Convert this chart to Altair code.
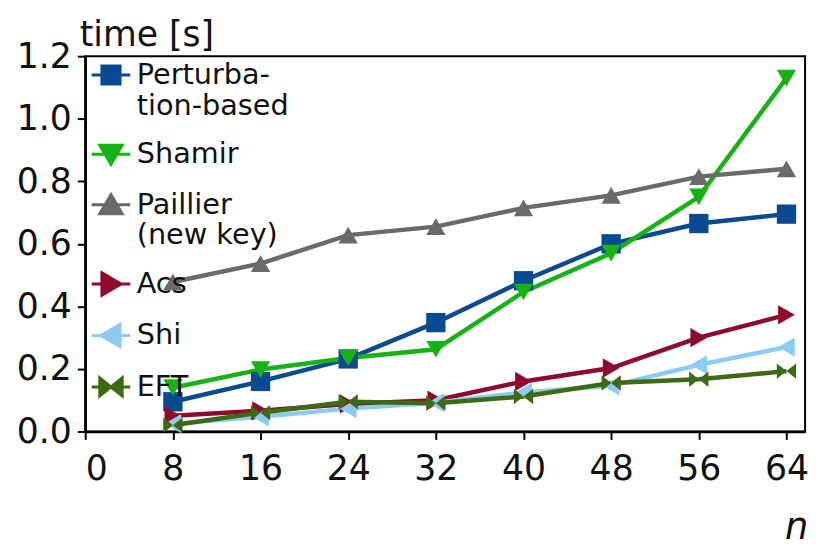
import altair as alt
import pandas as pd

n_values = [8, 16, 24, 32, 40, 48, 56, 64]
series_names = ["Perturbation-based", "Shamir", "Paillier (new key)", "Acs", "Shi", "EFT"]
perturbation = [0.095, 0.16, 0.232, 0.348, 0.482, 0.60, 0.665, 0.695]
shamir = [0.14, 0.198, 0.235, 0.263, 0.446, 0.57, 0.75, 1.13]
paillier = [0.478, 0.537, 0.628, 0.655, 0.715, 0.755, 0.815, 0.84]
acs = [0.05, 0.066, 0.088, 0.10, 0.16, 0.203, 0.30, 0.373]
shi = [0.025, 0.047, 0.073, 0.092, 0.125, 0.146, 0.213, 0.27]
eft = [0.02, 0.06, 0.095, 0.09, 0.112, 0.155, 0.167, 0.193]
colors = ["#0A4A92", "#16B216", "#6A6A6A", "#8E0B2E", "#8DCBF2", "#3D6A12"]
marker_names = ["square", "triangle-down", "triangle-up", "triangle-right", "triangle-left", "bowtie"]
marker_shapes = ["square", "triangle-down", "triangle-up", "triangle-right", "triangle-left",
                 "M-1,-0.8L0,0L-1,0.8ZM1,-0.8L0,0L1,0.8Z"]
legend_paths = [
    "M-1,0H1M-0.47,-0.47H0.47V0.47H-0.47Z",
    "M-1,0H1M-0.58,-0.47L0.58,-0.47L0,0.52Z",
    "M-1,0H1M-0.58,0.47L0.58,0.47L0,-0.52Z",
    "M-1,0H1M-0.47,-0.58L0.52,0L-0.47,0.58Z",
    "M-1,0H1M0.47,-0.58L-0.52,0L0.47,0.58Z",
    "M-1,0H1M-0.58,-0.47L0,0L-0.58,0.47ZM0.58,-0.47L0,0L0.58,0.47Z",
]
legend_lines = {"Perturbation-based": ["Perturba-", "tion-based"],
                "Paillier (new key)": ["Paillier", "(new key)"]}

values = [perturbation, shamir, paillier, acs, shi, eft]
rows = []
for name, mk, vals in zip(series_names, marker_names, values):
    for n, v in zip(n_values, vals):
        rows.append({"n": n, "time": v, "series": name, "marker": mk})
df = pd.DataFrame(rows)

shape_expr = ""
for name, p in zip(series_names, legend_paths):
    shape_expr += f"datum.value === '{name}' ? '{p}' : "
shape_expr += "'circle'"
label_expr = ""
for name, lines_ in legend_lines.items():
    arr = "[" + ",".join(f"'{l}'" for l in lines_) + "]"
    label_expr += f"datum.label === '{name}' ? {arr} : "
label_expr += "datum.label"

FONT = "DejaVu Sans"

x = alt.X("n:Q",
          scale=alt.Scale(domain=[0, 65.7], nice=False, zero=False),
          axis=alt.Axis(values=[0, 8, 16, 24, 32, 40, 48, 56, 64], title="n",
                        titleFontStyle="italic", titleFontWeight="normal", titleFontSize=37,
                        titleX=718, titleY=108, titleAlign="center", titleBaseline="alphabetic",
                        titleAngle=0))
y = alt.Y("time:Q",
          scale=alt.Scale(domain=[0, 1.2], nice=False),
          axis=alt.Axis(values=[0, 0.2, 0.4, 0.6, 0.8, 1.0, 1.2], format=".1f", title="time [s]",
                        titleAngle=0, titleX=-6, titleY=-11, titleAlign="left",
                        titleBaseline="alphabetic", titleFontWeight="normal", titleFontSize=35))

legend = alt.Legend(
    title=None, orient="none", legendX=5, legendY=-2, padding=0,
    symbolSize=1521, symbolType={"expr": shape_expr}, symbolStrokeWidth=3, symbolOpacity=1,
    labelFontSize=29, labelFont=FONT, labelOffset=5,
    labelLimit=400, rowPadding=13, labelColor="#111111",
    labelExpr=label_expr,
)

color = alt.Color("series:N", scale=alt.Scale(domain=series_names, range=colors),
                  sort=series_names, legend=legend)

base = alt.Chart(df).encode(x=x, y=y, color=color)
lines = base.mark_line(strokeWidth=4.5)
points = base.mark_point(filled=True, size=380, opacity=1, strokeWidth=1).encode(
    shape=alt.Shape("marker:N", scale=alt.Scale(domain=marker_names, range=marker_shapes),
                    legend=None),
)

chart = alt.layer(lines, points).properties(
    width=727, height=379,
    autosize=alt.AutoSizeParams(type="none"),
    padding={"left": 78, "top": 46, "right": 9, "bottom": 116},
).configure_view(stroke="black", strokeWidth=2).configure_axis(
    grid=False, domainColor="black", domainWidth=2.5, tickColor="black", tickWidth=2,
    tickSize=8, labelFont=FONT, labelFontSize=35, labelColor="#111111",
    titleFont=FONT, titleColor="#111111",
).configure_axisX(labelPadding=13).configure_axisY(labelPadding=6)

chart.save("out.html", embed_options={"renderer": "svg", "actions": False})
